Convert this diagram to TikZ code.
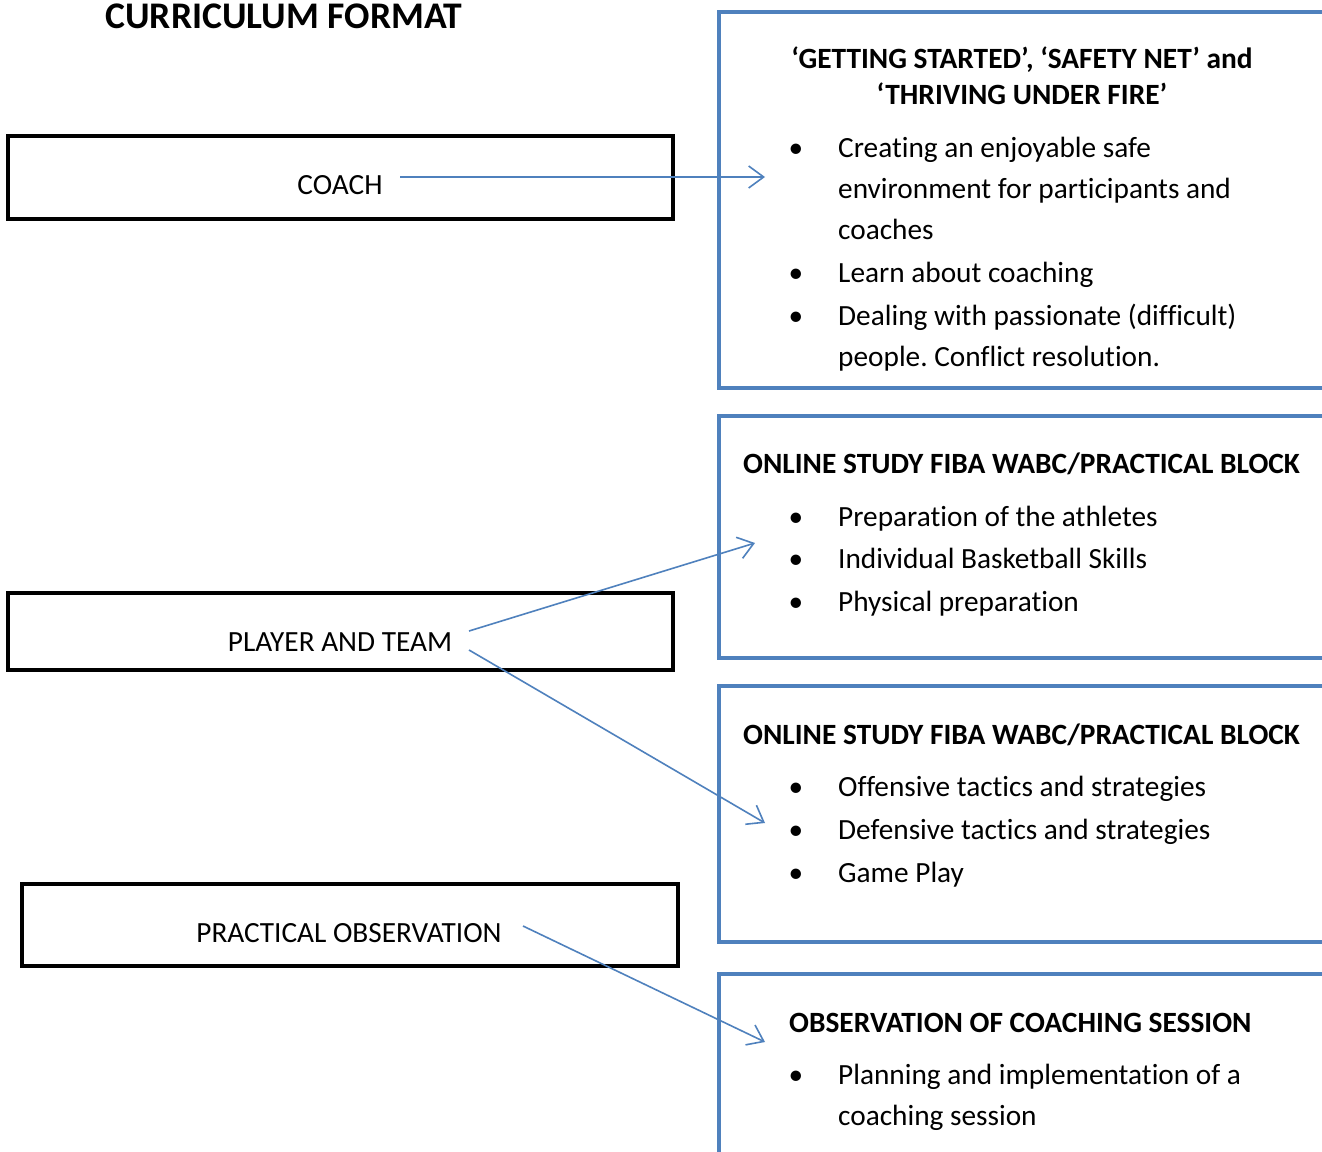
\documentclass[tikz,border=0pt]{standalone}
\usepackage{fontspec}
\setmainfont{Carlito}[Ligatures={NoCommon}]
\usetikzlibrary{arrows.meta}
\definecolor{boxblue}{HTML}{4F81BD}
\frenchspacing
\tikzset{
  blackbox/.style={draw=black, line width=4.5pt, inner sep=0pt, outer sep=0pt, anchor=north west},
  bluebox/.style={draw=boxblue, line width=4pt, inner sep=0pt, outer sep=0pt, anchor=north west},
  link/.style={draw=boxblue, line width=1.6pt, -{Straight Barb[length=15pt,width=22pt,line width=1.6pt]}},
  body/.style={font=\fontsize{29.3}{35}\selectfont, inner sep=0pt, anchor=base west},
  bul/.style={font=\fontsize{29.3}{35}\selectfont, inner sep=0pt, anchor=base},
  head/.style={font=\fontsize{29.4}{35}\bfseries\selectfont, inner sep=0pt, anchor=base},
  headw/.style={font=\fontsize{29.4}{35}\bfseries\selectfont, inner sep=0pt, anchor=base west},
  lbl/.style={font=\fontsize{29.3}{35}\selectfont, inner sep=0pt, anchor=base},
}
\begin{document}
\begin{tikzpicture}[x=1pt,y=-1pt]
\useasboundingbox (0,0) rectangle (1322,1151);
\fill[white] (0,0) rectangle (1322,1151);

% title
\node[font=\fontsize{37.6}{42}\bfseries\selectfont, inner sep=0pt, anchor=base] (title) at (284,28) {CURRICULUM FORMAT};

% left boxes
\node[blackbox, minimum width=665pt, minimum height=83pt] (coachbox) at (8,136) {};
\node[lbl] (coach) at (340,194) {COACH};
\node[blackbox, minimum width=665pt, minimum height=77pt] (ptbox) at (8,593) {};
\node[lbl] (pt) at (340,651) {PLAYER AND TEAM};
\node[blackbox, minimum width=656pt, minimum height=82pt] (pobox) at (22,884) {};
\node[lbl] (po) at (349,942) {PRACTICAL OBSERVATION};

% right boxes
\node[bluebox, minimum width=700pt, minimum height=376pt] (b1) at (719,12) {};
\node[bluebox, minimum width=700pt, minimum height=242pt] (b2) at (719,416) {};
\node[bluebox, minimum width=700pt, minimum height=256pt] (b3) at (719,686) {};
\node[bluebox, minimum width=700pt, minimum height=300pt] (b4) at (719,974) {};

% box 1 text
\node[head] (h1a) at (1022,68) {‘GETTING STARTED’, ‘SAFETY NET’ and};
\node[head] (h1b) at (1022,104) {‘THRIVING UNDER FIRE’};
\node[bul] (d11) at (796,157) {•};
\node[body] (t11) at (838,157) {Creating an enjoyable safe};
\node[body] (t12) at (838,198) {environment for participants and};
\node[body] (t13) at (838,239) {coaches};
\node[bul] (d12) at (796,282) {•};
\node[body] (t14) at (838,282) {Learn about coaching};
\node[bul] (d13) at (796,325) {•};
\node[body] (t15) at (838,325) {Dealing with passionate (difficult)};
\node[body] (t16) at (838,366) {people. Conflict resolution.};

% box 2 text
\node[headw] (h2) at (743,473) {ONLINE STUDY FIBA WABC/PRACTICAL BLOCK};
\node[bul] (d21) at (796,526) {•};
\node[body] (t21) at (838,526) {Preparation of the athletes};
\node[bul] (d22) at (796,568) {•};
\node[body] (t22) at (838,568) {Individual Basketball Skills};
\node[bul] (d23) at (796,611) {•};
\node[body] (t23) at (838,611) {Physical preparation};

% box 3 text
\node[headw] (h3) at (743,744) {ONLINE STUDY FIBA WABC/PRACTICAL BLOCK};
\node[bul] (d31) at (796,796) {•};
\node[body] (t31) at (838,796) {Offensive tactics and strategies};
\node[bul] (d32) at (796,839) {•};
\node[body] (t32) at (838,839) {Defensive tactics and strategies};
\node[bul] (d33) at (796,882) {•};
\node[body] (t33) at (838,882) {Game Play};

% box 4 text
\node[headw] (h4) at (789,1032) {OBSERVATION OF COACHING SESSION};
\node[bul] (d41) at (796,1084) {•};
\node[body] (t41) at (838,1084) {Planning and implementation of a};
\node[body] (t42) at (838,1125) {coaching session};

% arrow ends
\coordinate (coachS) at (400,177);
\coordinate (coachE) at (765,177);
\coordinate (ptS1) at (469,631);
\coordinate (ptE1) at (755,543);
\coordinate (ptS2) at (469,650);
\coordinate (ptE2) at (765,823);
\coordinate (poS) at (523,926);
\coordinate (poE) at (765,1042);

\draw[link] (coachS) -- (coachE);
\draw[link] (ptS1) -- (ptE1);
\draw[link] (ptS2) -- (ptE2);
\draw[link] (poS) -- (poE);
\end{tikzpicture}
\end{document}
